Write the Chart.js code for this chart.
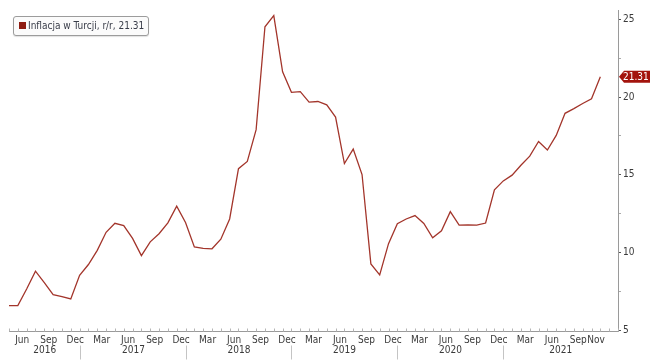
<!DOCTYPE html>
<html>
<head>
<meta charset="utf-8">
<script src="https://cdn.jsdelivr.net/npm/chart.js@4/dist/chart.umd.min.js"></script>
<style>
  body { margin: 0; background: #fff; }
  #wrap { position: relative; width: 653px; height: 360px; }
  #legend {
    position: absolute; left: 13px; top: 16px; height: 20px;
    box-sizing: border-box; padding: 0 4px 0 5px;
    border: 1px solid #9c9c9c; border-radius: 3px; background: #fbfbfb;
    box-shadow: 0 1px 1px rgba(0,0,0,0.12);
    font: 10px "Liberation Sans Narrow", "DejaVu Sans Condensed", "Liberation Sans", sans-serif;
    line-height: 18px; color: #383c48; white-space: nowrap;
  }
  #legend .sq { display: inline-block; width: 7px; height: 7px; background: #8e1c12; margin-right: 2px; vertical-align: 0px; }
</style>
</head>
<body>
<div id="wrap">
  <canvas id="chart" width="653" height="360"></canvas>
  <div id="legend"><span class="sq"></span><span id="legendText"></span></div>
</div>
<script>
// ===== Data (monthly CPI y/y, Apr 2016 - Nov 2021) =====
const seriesLabel = 'Inflacja w Turcji, r/r';
const monthNames = ['Jan', 'Feb', 'Mar', 'Apr', 'May', 'Jun', 'Jul', 'Aug', 'Sep', 'Oct', 'Nov', 'Dec'];
const years = [2016, 2017, 2018, 2019, 2020, 2021];
const firstMonth = 3; // April 2016

const infl2016 = [6.57, 6.58, 7.64, 8.79, 8.05, 7.28, 7.16, 7.00, 8.53];
const infl2017 = [9.22, 10.13, 11.29, 11.87, 11.72, 10.90, 9.79, 10.68, 11.20, 11.90, 12.98, 11.92];
const infl2018 = [10.35, 10.26, 10.23, 10.85, 12.15, 15.39, 15.85, 17.90, 24.52, 25.24, 21.62, 20.30];
const infl2019 = [20.35, 19.67, 19.71, 19.50, 18.71, 15.72, 16.65, 15.01, 9.26, 8.55, 10.56, 11.84];
const infl2020 = [12.15, 12.37, 11.86, 10.94, 11.39, 12.62, 11.76, 11.77, 11.75, 11.89, 14.03, 14.60];
const infl2021 = [14.97, 15.61, 16.19, 17.14, 16.59, 17.53, 18.95, 19.25, 19.58, 19.89, 21.31];
const inflation = [].concat(infl2016, infl2017, infl2018, infl2019, infl2020, infl2021);

const tickMonths = ['Mar', 'Jun', 'Sep', 'Dec'];
const yTicks = [5, 10, 15, 20, 25];
const yMinorStep = 2.5;
const emptyMonthsAfter = 2; // axis runs a little past the last value

// categories: "Mon YYYY"
const categories = [];
for (let i = 0; i < inflation.length + emptyMonthsAfter; i++) {
  const m = (firstMonth + i) % 12;
  const y = years[0] + Math.floor((firstMonth + i) / 12);
  categories.push(monthNames[m] + ' ' + y);
}

const lastValue = inflation[inflation.length - 1];
document.getElementById('legendText').textContent = `${seriesLabel}, ${lastValue.toFixed(2)}`;

const FONT = '"Liberation Sans Narrow", "DejaVu Sans Condensed", "Liberation Sans", sans-serif';
const LINE_COLOR = '#a3352b';
const AXIS_COLOR = '#9a9a9a';
const TEXT_COLOR = '#3a3a3a';

/* ===== Bottom time axis: month ticks, labels, year rows ===== */
const timeAxisPlugin = {
  id: 'timeAxis',
  afterDraw(chart) {
    const { ctx, chartArea: area } = chart;
    const xs = chart.scales.x;
    const base = Math.round(area.bottom) + 0.5;
    const step = xs.getPixelForValue(1) - xs.getPixelForValue(0);
    ctx.save();
    ctx.strokeStyle = AXIS_COLOR;
    ctx.lineWidth = 1;
    ctx.beginPath();
    ctx.moveTo(area.left, base);
    ctx.lineTo(area.right, base);
    ctx.stroke();

    // monthly minor ticks
    ctx.strokeStyle = '#b5b5b5';
    ctx.beginPath();
    categories.forEach((c, i) => {
      const x = Math.round(xs.getPixelForValue(i)) + 0.5;
      ctx.moveTo(x, base - 3);
      ctx.lineTo(x, base);
    });
    ctx.stroke();

    // month labels, centred on the month (points sit at month end)
    ctx.fillStyle = TEXT_COLOR;
    ctx.font = '10px ' + FONT;
    ctx.textAlign = 'center';
    ctx.textBaseline = 'middle';
    inflation.forEach((v, i) => {
      const mon = categories[i].split(' ')[0];
      if (tickMonths.includes(mon) || i === inflation.length - 1) {
        ctx.fillText(mon, xs.getPixelForValue(i) - step / 2, base + 9);
      }
    });

    // year separators + labels
    const seps = [];
    categories.forEach((c, i) => {
      if (c.startsWith('Dec') && i < inflation.length - 1) seps.push(Math.round(xs.getPixelForValue(i)) + 0.5);
    });
    ctx.strokeStyle = '#c4c4c4';
    ctx.beginPath();
    seps.forEach(x => { ctx.moveTo(x, base + 14); ctx.lineTo(x, base + 28); });
    ctx.stroke();
    const bounds = [area.left].concat(seps, [area.right]);
    years.forEach((yr, k) => {
      ctx.fillText(String(yr), (bounds[k] + bounds[k + 1]) / 2, base + 19);
    });
    ctx.restore();
  }
};

/* ===== Last value tag on the right axis ===== */
const lastTagPlugin = {
  id: 'lastTag',
  afterDraw(chart) {
    const { ctx, chartArea: area } = chart;
    const y = chart.scales.y.getPixelForValue(lastValue);
    const x0 = area.right + 1;
    ctx.save();
    ctx.fillStyle = '#a3140d';
    ctx.beginPath();
    ctx.moveTo(x0, y);
    ctx.lineTo(x0 + 5, y - 6);
    ctx.lineTo(650, y - 6);
    ctx.lineTo(650, y + 6);
    ctx.lineTo(x0 + 5, y + 6);
    ctx.closePath();
    ctx.fill();
    ctx.fillStyle = '#fff';
    ctx.font = '10px ' + FONT;
    ctx.textAlign = 'left';
    ctx.textBaseline = 'middle';
    ctx.fillText(lastValue.toFixed(2), x0 + 4, y + 0.5);
    ctx.restore();
  }
};

const chart = new Chart(document.getElementById('chart'), {
  type: 'line',
  data: {
    labels: categories,
    datasets: [{
      label: seriesLabel,
      data: inflation,
      borderColor: LINE_COLOR,
      borderWidth: 1.3,
      pointRadius: 0,
      tension: 0,
      fill: false
    }]
  },
  options: {
    responsive: false,
    animation: false,
    devicePixelRatio: 1,
    layout: { padding: { left: 9, top: 10, right: 0, bottom: 29 } },
    plugins: { legend: { display: false }, tooltip: { enabled: false } },
    scales: {
      x: { type: 'category', offset: false, display: false },
      y: {
        position: 'right',
        min: 4.94,
        max: 25.6,
        afterBuildTicks(scale) {
          const t = [];
          for (let v = yTicks[0]; v <= yTicks[yTicks.length - 1]; v += yMinorStep) t.push({ value: v });
          scale.ticks = t;
        },
        afterFit(scale) { scale.width = 35; },
        border: { display: true, color: AXIS_COLOR },
        grid: {
          drawOnChartArea: false,
          drawTicks: true,
          tickLength: 3,
          tickColor: ctx => (yTicks.includes(ctx.tick.value) ? '#555' : '#aaa')
        },
        ticks: {
          padding: 2,
          color: TEXT_COLOR,
          font: { size: 10, family: FONT },
          callback: v => (yTicks.includes(v) ? String(v) : '')
        }
      }
    }
  },
  plugins: [timeAxisPlugin, lastTagPlugin]
});
</script>
</body>
</html>
